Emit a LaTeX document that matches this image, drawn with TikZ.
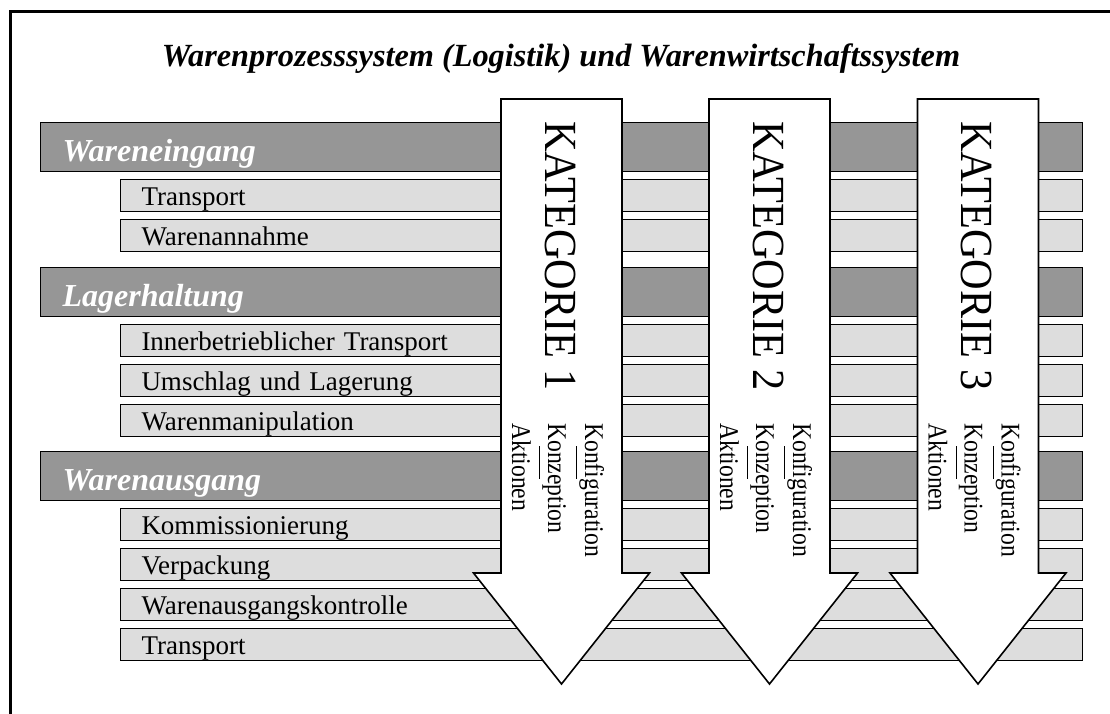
\documentclass[tikz,border=0pt]{standalone}
\usepackage{fontspec}
\setmainfont{Liberation Serif}
\definecolor{hdrgray}{HTML}{969696}
\definecolor{subgray}{HTML}{DDDDDD}
\newcommand{\onbar}{\rlap{\kern7pt\rule[-9pt]{37pt}{1.3pt}}}

\begin{document}
\begin{tikzpicture} [x = 1pt, y = -1pt,
  hdr/.style = {draw, line width = 1.2pt, fill = hdrgray, anchor = north west, minimum height = 49pt,
    text width = 998pt, inner xsep = 22pt, inner ysep = 0pt, align = left, text height = 29pt, text depth = 0pt,
    text = white, font = \fontsize{32}{38}\selectfont\bfseries\itshape},
  sub/.style = {draw, line width = 1pt, fill = subgray, anchor = north west, minimum height = 32pt,
    text width = 920pt, inner xsep = 21pt, inner ysep = 0pt, align = left, text height = 20pt, text depth = 0pt,
    font = \fontsize{27}{31}\selectfont},
  katarrow/.style = {draw, line width = 1.6pt, fill = white, line join = miter},
  katlbl/.style = {rotate = -90, anchor = base west, inner sep = 0pt, font = \fontsize{46}{54}\selectfont},
  sublbl/.style = {rotate = -90, anchor = base west, inner sep = 0pt, font = \fontsize{27}{32}\selectfont}]
\useasboundingbox (0,0) rectangle (1110,713);
\clip (0,0) rectangle (1110,713);
\draw [line width = 3pt] (10,11.5) rectangle (1130,740);
\node [anchor = base, inner sep = 0pt, font = \fontsize{32.3}{38}\selectfont\bfseries\itshape] (title) at (561,66)
  {Warenprozesssystem (Logistik) und Warenwirtschaftssystem};
% Wareneingang
\node [hdr] (we) at (40,122) {Wareneingang};
\node [sub] (we1) at (120,179) {Transport};
\node [sub] (we2) at (120,219) {Warenannahme};
% Lagerhaltung
\node [hdr] (lh) at (40,267) {Lagerhaltung};
\node [sub] (lh1) at (120,324) {Innerbetrieblicher Transport};
\node [sub] (lh2) at (120,364) {Umschlag und Lagerung};
\node [sub] (lh3) at (120,404) {Warenmanipulation};
% Warenausgang
\node [hdr] (wa) at (40,451) {Warenausgang};
\node [sub] (wa1) at (120,508) {Kommissionierung};
\node [sub] (wa2) at (120,548) {Verpackung};
\node [sub] (wa3) at (120,588) {Warenausgangskontrolle};
\node [sub] (wa4) at (120,628) {Transport};
% Kategorien
\foreach \c/\n in {561.5/1, 769.5/2, 978/3} {
  \draw [katarrow] ({\c-60.5},99) -- ({\c+60.5},99) -- ({\c+60.5},573) -- ({\c+88},573)
    -- (\c,684) -- ({\c-88},573) -- ({\c-60.5},573) -- cycle;
  \node [katlbl] (kat\n) at ({\c-16.5},121) {\scalebox{0.92}[1]{KATEGORIE \n}};
  \node [sublbl] (konf\n) at ({\c+23.5},423) {\scalebox{0.875}[1]{K\onbar onf\kern0ptiguration}};
  \node [sublbl] (konz\n) at ({\c-13.5},423) {\scalebox{0.875}[1]{K\onbar onzeption}};
  \node [sublbl] (akt\n) at ({\c-49.5},423) {\scalebox{0.875}[1]{Aktionen}};
}
\end{tikzpicture}
\end{document}
